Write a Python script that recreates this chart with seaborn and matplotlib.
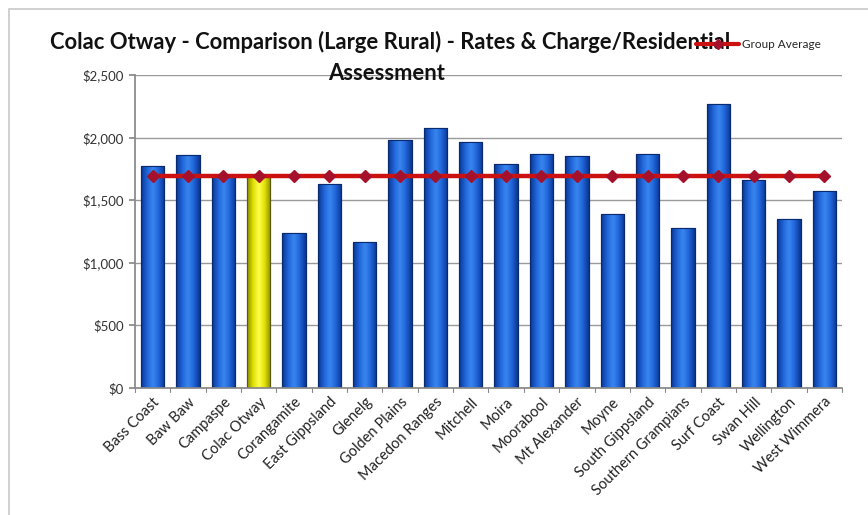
import numpy as np
import pandas as pd
import matplotlib
matplotlib.use("Agg")
import matplotlib.pyplot as plt
import seaborn as sns
from matplotlib.colors import LinearSegmentedColormap
from matplotlib.patches import Rectangle
from matplotlib.lines import Line2D

councils = ["Bass Coast", "Baw Baw", "Campaspe", "Colac Otway", "Corangamite",
            "East Gippsland", "Glenelg", "Golden Plains", "Macedon Ranges", "Mitchell",
            "Moira", "Moorabool", "Mt Alexander", "Moyne", "South Gippsland",
            "Southern Grampians", "Surf Coast", "Swan Hill", "Wellington", "West Wimmera"]
rates = [1776, 1861, 1700, 1693, 1240, 1629, 1169, 1983, 2074, 1962,
         1787, 1866, 1853, 1387, 1866, 1275, 2268, 1661, 1347, 1576]
group_average = [1697] * len(councils)
highlight = "Colac Otway"
yticks = [0, 500, 1000, 1500, 2000, 2500]

df = pd.DataFrame({"Council": councils, "Rates": rates,
                   "Kind": ["hl" if c == highlight else "other" for c in councils]})

sns.set_theme(style="white")
plt.rcParams["font.family"] = ["Lato", "DejaVu Sans"]

fig = plt.figure(figsize=(8.68, 5.15), dpi=100)
ax = fig.add_axes([0.1555, 0.2466, 0.8145, 0.6078])

sns.barplot(data=df, x="Council", y="Rates", hue="Kind",
            palette={"hl": "#e6e600", "other": "#1f63d6"},
            dodge=False, width=0.66, legend=False, ax=ax,
            edgecolor="#0b2f7a", linewidth=0.8)

# gradient shading of bars
blue_cmap = LinearSegmentedColormap.from_list("b", ["#0a3590", "#1f64d8", "#3a86f0", "#1f64d8", "#0a3590"])
yel_cmap = LinearSegmentedColormap.from_list("y", ["#8a8a00", "#e0e000", "#ffff50", "#e0e000", "#8a8a00"])
grad = np.linspace(0, 1, 64).reshape(1, -1)
for p in list(ax.patches):
    h = p.get_height()
    if h <= 0:
        continue
    fc = p.get_facecolor()
    cmap = yel_cmap if fc[0] > 0.5 else blue_cmap
    x0 = p.get_x(); w = p.get_width()
    im = ax.imshow(grad, cmap=cmap, aspect="auto", extent=[x0, x0 + w, 0, h],
                   zorder=p.get_zorder() + 0.1, interpolation="bicubic")
    im.set_clip_path(p)
    edge = Rectangle((x0, 0), w, h, fill=False,
                     edgecolor="#5a5a00" if fc[0] > 0.5 else "#0a2a70",
                     linewidth=0.8, zorder=p.get_zorder() + 0.2)
    ax.add_patch(edge)

xs = np.arange(len(councils))
ax.plot(xs, group_average, color="#cc1111", linewidth=3.2, zorder=5)
ax.plot(xs, group_average, linestyle="none", marker="D", markersize=6,
        color="#a5102a", zorder=6)

ax.set_xlim(-0.5, len(councils) - 0.5)
ax.set_ylim(0, 2500)
ax.set_yticks(yticks)
ax.set_yticklabels(["${:,}".format(v) for v in yticks], fontsize=9.5, color="#333333")
ax.set_xticks(xs)
ax.set_xticklabels(councils, rotation=45, ha="right", rotation_mode="anchor",
                   fontsize=10.5, color="#222222")
ax.set_xlabel("")
ax.set_ylabel("")
ax.yaxis.grid(True, color="#9a9a9a", linewidth=1.0)
ax.set_axisbelow(True)
for s in ["top", "right"]:
    ax.spines[s].set_visible(False)
ax.spines["left"].set_color("#888888")
ax.spines["bottom"].set_color("#888888")
ax.tick_params(axis="x", length=0, pad=5)
ax.tick_params(axis="y", length=4, color="#888888", left=True, pad=4)
# category-boundary tick marks
for b in np.arange(-0.5, len(councils), 1.0):
    ax.plot([b, b], [0, -30], color="#888888", linewidth=0.8, clip_on=False, zorder=1)

# title
fig.text(0.450, 0.918, "Colac Otway - Comparison (Large Rural) - Rates & Charge/Residential",
         ha="center", va="center", fontsize=15.8, fontweight="bold", color="#111111")
fig.text(0.445, 0.858, "Assessment", ha="center", va="center",
         fontsize=15.8, fontweight="bold", color="#111111")

# legend
handle = Line2D([], [], color="#cc1111", linewidth=3, marker="D", markersize=5,
                markerfacecolor="#a5102a", markeredgecolor="#a5102a")
fig.legend([handle], ["Group Average"], loc="center left",
           bbox_to_anchor=(0.790, 0.914), frameon=False, fontsize=8.5,
           handlelength=3.6, handletextpad=0.3)

# chart border
fig.patches.append(Rectangle((0.010, -0.01), 1.1, 0.993, transform=fig.transFigure,
                             fill=False, edgecolor="#c8c8c8", linewidth=1.2))

fig.savefig("out.png", dpi=100)
